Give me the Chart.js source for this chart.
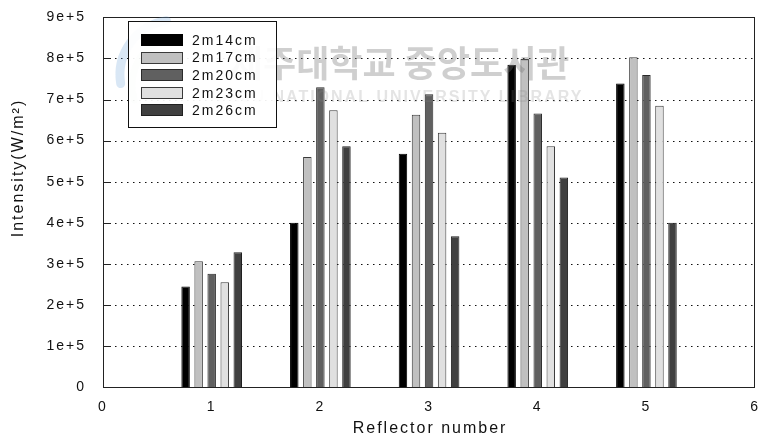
<!DOCTYPE html>
<html>
<head>
<meta charset="utf-8">
<script src="https://cdn.jsdelivr.net/npm/chart.js@4/dist/chart.umd.min.js"></script>
<style>
  html, body { margin: 0; padding: 0; background: #fff; }
  #wrap { width: 763px; height: 444px; }
</style>
</head>
<body>
<div id="wrap"><canvas id="c" width="763" height="444"></canvas></div>
<script>
// Reflector positions and measured intensity per source distance
const reflectors = [1, 2, 3, 4, 5];
const seriesNames = ['2m14cm', '2m17cm', '2m20cm', '2m23cm', '2m26cm'];
const d14 = [2.45e5, 4.00e5, 5.68e5, 7.85e5, 7.39e5];
const d17 = [3.06e5, 5.60e5, 6.63e5, 7.99e5, 8.03e5];
const d20 = [2.76e5, 7.30e5, 7.13e5, 6.66e5, 7.60e5];
const d23 = [2.55e5, 6.74e5, 6.19e5, 5.86e5, 6.85e5];
const d26 = [3.28e5, 5.86e5, 3.67e5, 5.10e5, 4.00e5];
const xTicks = [0, 1, 2, 3, 4, 5, 6];
const yTicks = [0, 1e5, 2e5, 3e5, 4e5, 5e5, 6e5, 7e5, 8e5, 9e5];
const xTitle = 'Reflector number';
const yTitle = 'Intensity(W/m²)';

const fills = ['#000000', '#c0c0c0', '#606060', '#e0e0e0', '#404040'];
const edges = ['#000000', '#3a3a3a', '#2a2a2a', '#3a3a3a', '#202020'];
const FONT = '"Liberation Sans", Arial, sans-serif';

const seriesValues = [d14, d17, d20, d23, d26];
const datasets = seriesNames.map((name, k) => ({
  label: name,
  data: reflectors.map((x, i) => ({ x: x, y: seriesValues[k][i] })),
  backgroundColor: fills[k],
  borderColor: edges[k],
  borderWidth: 1,
  borderSkipped: 'start',
  barPercentage: 0.65,
  categoryPercentage: 0.6
}));

function fmtY(v) {
  if (v === 0) return '0';
  return Math.round(v / 1e5) + 'e+5';
}

// letter spacing used by every label on the canvas
const spacingPlugin = {
  id: 'spacing',
  beforeDraw(chart) { chart.ctx.letterSpacing = '2px'; }
};

// dotted horizontal grid, inward tick marks and the plot frame
const gridPlugin = {
  id: 'dottedGrid',
  beforeDatasetsDraw(chart) {
    const { ctx, chartArea: a, scales } = chart;
    ctx.save();
    ctx.strokeStyle = '#111';
    ctx.lineWidth = 1;
    ctx.setLineDash([1.5, 4.5]);
    yTicks.forEach(v => {
      if (v === 0 || v === yTicks[yTicks.length - 1]) return;
      const y = Math.round(scales.y.getPixelForValue(v)) + 0.5;
      ctx.beginPath();
      ctx.moveTo(a.left, y);
      ctx.lineTo(a.right, y);
      ctx.stroke();
    });
    ctx.setLineDash([]);
    ctx.strokeStyle = '#222';
    yTicks.forEach(v => {
      const y = Math.round(scales.y.getPixelForValue(v)) + 0.5;
      ctx.beginPath();
      ctx.moveTo(a.left, y);
      ctx.lineTo(a.left + 8, y);
      ctx.stroke();
    });
    ctx.restore();
  },
  afterDatasetsDraw(chart) {
    const { ctx, chartArea: a } = chart;
    ctx.save();
    ctx.strokeStyle = '#222';
    ctx.lineWidth = 1;
    ctx.strokeRect(Math.round(a.left) + 0.5, Math.round(a.top) + 0.5,
      Math.round(a.right - a.left) - 1, Math.round(a.bottom - a.top));
    ctx.restore();
  }
};

// axis titles
const titlePlugin = {
  id: 'axisTitles',
  afterDraw(chart) {
    const { ctx, chartArea: a } = chart;
    ctx.save();
    ctx.fillStyle = '#111';
    ctx.font = '16px ' + FONT;
    ctx.textAlign = 'center';
    ctx.textBaseline = 'middle';
    ctx.fillText(xTitle, (a.left + a.right) / 2 + 1, 429);
    ctx.translate(19, 168);
    ctx.rotate(-Math.PI / 2);
    ctx.fillText(yTitle, 0, 0);
    ctx.restore();
  }
};

// faint library watermark across the top of the plot
const watermarkPlugin = {
  id: 'watermark',
  afterDatasetsDraw(chart) {
    const { ctx } = chart;
    ctx.save();
    ctx.letterSpacing = '0px';
    // logo swooshes
    ctx.lineCap = 'round';
    ctx.strokeStyle = 'rgba(120,170,220,0.28)';
    ctx.lineWidth = 9;
    ctx.beginPath();
    ctx.arc(175, 75, 55, Math.PI * 0.95, Math.PI * 1.45);
    ctx.stroke();
    ctx.strokeStyle = 'rgba(140,200,150,0.25)';
    ctx.lineWidth = 7;
    ctx.beginPath();
    ctx.arc(180, 85, 48, Math.PI * 0.9, Math.PI * 1.35);
    ctx.stroke();
    // text
    ctx.fillStyle = 'rgba(110,110,110,0.33)';
    ctx.font = 'bold 36px "Noto Sans CJK KR", sans-serif';
    ctx.textAlign = 'left';
    ctx.textBaseline = 'middle';
    ctx.fillText('제주대학교 중앙도서관', 230, 63);
    ctx.fillStyle = 'rgba(130,130,130,0.22)';
    ctx.font = 'bold 16px "Liberation Sans", Arial, sans-serif';
    ctx.letterSpacing = '2px';
    ctx.fillText('JEJU NATIONAL UNIVERSITY LIBRARY', 218, 98);
    ctx.restore();
  }
};

// boxed legend inside the plot
const legendPlugin = {
  id: 'boxLegend',
  afterDatasetsDraw(chart) {
    const { ctx } = chart;
    const box = { x: 128, y: 21, w: 148, h: 106 };
    ctx.save();
    ctx.fillStyle = 'rgba(255,255,255,0.93)';
    ctx.fillRect(box.x, box.y, box.w, box.h);
    ctx.strokeStyle = '#111';
    ctx.lineWidth = 1;
    ctx.strokeRect(box.x + 0.5, box.y + 0.5, box.w, box.h);
    ctx.font = '14px ' + FONT;
    ctx.textAlign = 'left';
    ctx.textBaseline = 'middle';
    chart.data.datasets.forEach((ds, i) => {
      const cy = 40 + i * 17.6;
      ctx.fillStyle = ds.backgroundColor;
      ctx.fillRect(141, Math.round(cy - 6), 42, 12);
      ctx.strokeStyle = ds.borderColor;
      ctx.strokeRect(141.5, Math.round(cy - 6) + 0.5, 41, 11);
      ctx.fillStyle = '#111';
      ctx.fillText(ds.label, 192, cy + 1);
    });
    ctx.restore();
  }
};

new Chart(document.getElementById('c'), {
  type: 'bar',
  data: { datasets: datasets },
  options: {
    responsive: false,
    animation: false,
    devicePixelRatio: 1,
    layout: { padding: { left: 0, right: 6, top: 14, bottom: 0 } },
    plugins: { legend: { display: false }, tooltip: { enabled: false } },
    scales: {
      x: {
        type: 'linear',
        min: 0,
        max: 6,
        offset: false,
        afterFit(s) { s.height = 57; },
        afterBuildTicks(s) { s.ticks = xTicks.map(v => ({ value: v })); },
        ticks: { color: '#111', padding: 4, font: { size: 14, family: FONT }, callback: v => String(v) },
        grid: { display: false },
        border: { display: false }
      },
      y: {
        min: 0,
        max: 9e5,
        afterFit(s) { s.width = 103; },
        afterBuildTicks(s) { s.ticks = yTicks.map(v => ({ value: v })); },
        ticks: { color: '#111', padding: 9, font: { size: 14, family: FONT }, callback: v => fmtY(v) },
        grid: { display: false },
        border: { display: false }
      }
    }
  },
  plugins: [spacingPlugin, gridPlugin, watermarkPlugin, legendPlugin, titlePlugin]
});
</script>
</body>
</html>
